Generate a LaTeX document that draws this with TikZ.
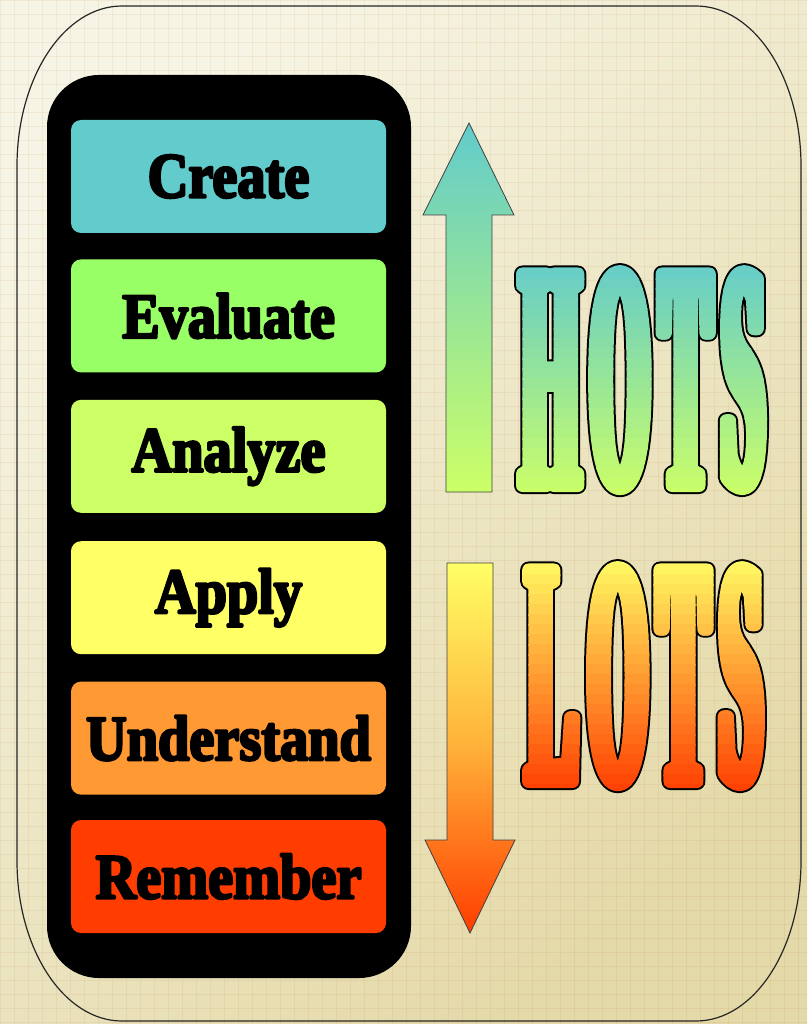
\documentclass[tikz,border=0pt]{standalone}
\usepackage{fontspec}
\setmainfont{Liberation Serif}
\newfontfamily\lvlfont{Liberation Serif}[FakeStretch=0.88]
\newfontfamily\condfont{Liberation Serif}[FakeStretch=0.23]
\usetikzlibrary{positioning}

\definecolor{paperL}{HTML}{F6F4E4}
\definecolor{paperR}{HTML}{E4D9A8}
\definecolor{createC}{HTML}{62CBCB}
\definecolor{evalC}{HTML}{99FF66}
\definecolor{analyzeC}{HTML}{CCFF66}
\definecolor{applyC}{HTML}{FFFF66}
\definecolor{underC}{HTML}{FF9933}
\definecolor{rememC}{HTML}{FF3D00}
\definecolor{lotsmid}{HTML}{FFB038}

\makeatletter
% heavy label text: fill and stroke
\newcommand{\lvl}[1]{\pgfsys@beginscope\special{pdf:literal direct 0 0 0 RG 2.6 w 1 j 2 Tr}#1\special{pdf:literal direct 0 Tr}\pgfsys@endscope}
% big word thickened by a stroke of the text colour
\newcommand{\thick}[2]{\pgfsys@beginscope\special{pdf:literal direct #2 w 1 j 2 Tr}#1\special{pdf:literal direct 0 Tr}\pgfsys@endscope}
\makeatother
\newcommand{\gap}{\kern12pt}

\tikzset{
  level/.style={rectangle, rounded corners=10pt, minimum width=315pt, minimum height=113pt,
    inner sep=0pt, font=\lvlfont\fontsize{64}{64}\selectfont\bfseries},
  bigword/.style={inner sep=0pt, anchor=base, font=\condfont\fontsize{323}{323}\selectfont\bfseries},
  gridline/.style={brown, opacity=0.10, line width=0.7pt},
  frame/.style={black!85, line width=1.2pt},
  arrowbody/.style={draw=black!75, line width=0.8pt}
}

\begin{document}
\begin{tikzpicture}[x=1pt, y=1pt]
  \useasboundingbox (0,0) rectangle (807,-1024);
  % paper
  \shade[top color=paperL, bottom color=paperR, shading angle=40] (0,0) rectangle (807,-1024);
  \foreach \gx in {0,14,...,806} \draw[gridline] (\gx,0) -- (\gx,-1024);
  \foreach \gy in {0,14,...,1022} \draw[gridline] (0,-\gy) -- (807,-\gy);
  \draw[frame] (122,-6) -- (696,-6) arc[start angle=90, end angle=0, x radius=105, y radius=160]
    -- (801,-861) arc[start angle=0, end angle=-90, x radius=105, y radius=160]
    -- (122,-1021) arc[start angle=270, end angle=180, x radius=105, y radius=160]
    -- (17,-166) arc[start angle=180, end angle=90, x radius=105, y radius=160] -- cycle;

  % HOTS: black rim, then the word in bands of colour
  \node[bigword, text=black] (hotsrim) at (642.5,-485.5) {\thick{H\gap O\gap T\gap S}{17}};
  \foreach \i [evaluate=\i as \p using 100*(\i+0.5)/24, evaluate=\i as \ytop using 258+10*\i] in {0,...,23} {
    \colorlet{bandc}{analyzeC!\p!createC}
    \begin{scope}
      \clip (500,-\ytop) rectangle (790,{-\ytop-11});
      \node[bigword, text=bandc] (hots\i) at (642.5,-485.5) {\thick{H\gap O\gap T\gap S}{13}};
    \end{scope}
  }
  % LOTS
  \node[bigword, text=black] (lotsrim) at (644.5,-781.5) {\thick{L\gap O\gap T\gap S}{17}};
  \foreach \i [evaluate=\i as \p using 100*(\i+0.5)/24, evaluate=\i as \ytop using 554+10*\i] in {0,...,23} {
    \colorlet{bandc}{rememC!\p!applyC}
    \begin{scope}
      \clip (500,-\ytop) rectangle (790,{-\ytop-11});
      \node[bigword, text=bandc] (lots\i) at (644.5,-781.5) {\thick{L\gap O\gap T\gap S}{13}};
    \end{scope}
  }

  % arrows
  \shade[arrowbody, top color=createC, bottom color=analyzeC]
    (446,-492) -- (446,-215) -- (423,-215) -- (469,-123) -- (514,-215) -- (492,-215) -- (492,-492) -- cycle;
  \shade[arrowbody, top color=applyC, bottom color=rememC, middle color=lotsmid]
    (447,-563) -- (493,-563) -- (493,-840) -- (515,-840) -- (470,-933) -- (425,-840) -- (447,-840) -- cycle;

  % levels
  \fill[black, rounded corners=52pt] (47,-75) rectangle (411,-978);
  \node[level, fill=createC] (create) at (228.5,-176.5) {\lvl{Create}};
  \node[level, fill=evalC, below=26pt of create] (evaluate) {\lvl{Evaluate}};
  \node[level, fill=analyzeC, below=27pt of evaluate] (analyze) {\lvl{Analyze}};
  \node[level, fill=applyC, below=28pt of analyze] (apply) {\lvl{Apply}};
  \node[level, fill=underC, below=27pt of apply] (understand) {\lvl{Understand}};
  \node[level, fill=rememC, below=25pt of understand] (remember) {\lvl{Remember}};
\end{tikzpicture}
\end{document}
